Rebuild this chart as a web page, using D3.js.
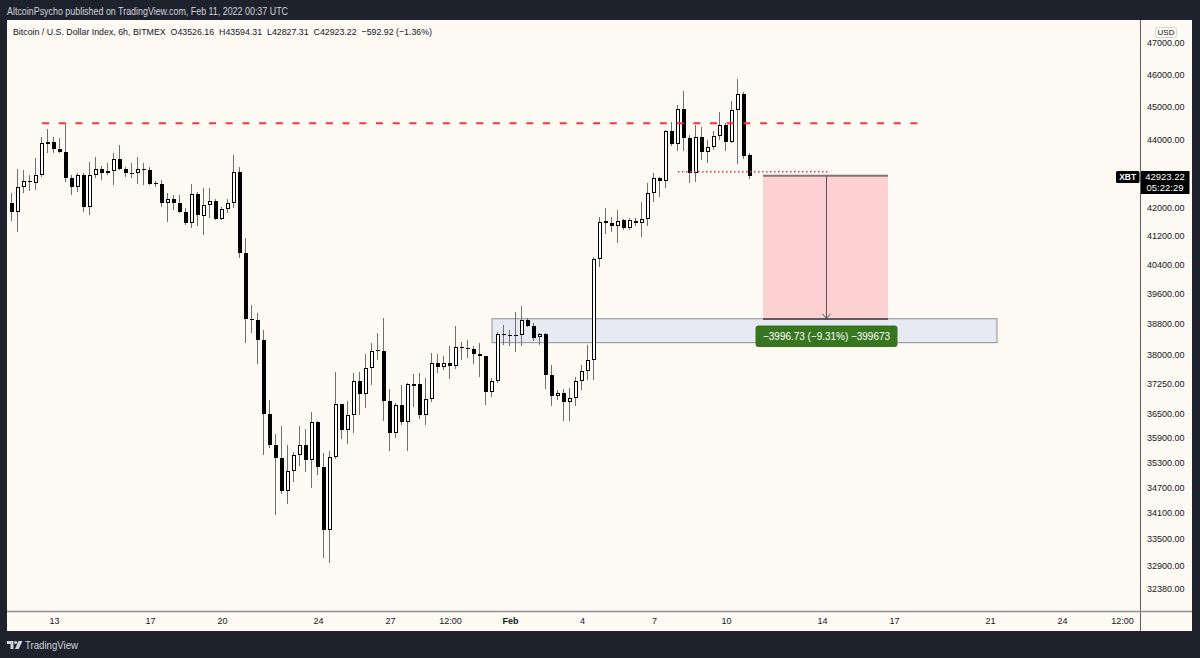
<!DOCTYPE html>
<html>
<head>
<meta charset="utf-8">
<script src="https://cdn.jsdelivr.net/npm/d3@7"></script>
<style>
  html, body { margin: 0; padding: 0; background: #1e222d; }
  svg { display: block; font-family: "Liberation Sans", Arial, sans-serif; }
</style>
</head>
<body>
<div id="chart"></div>
<script>
// BTC/USD 6h candles, Jan 11 06:00 -> Feb 11 00:00 (UTC)
var firstCandle = '2022-01-11T06:00Z';
var candleHours = 6;

var opens = [
  42120, 41860, 42600, 42770, 42720, 42940, 43860, 43930, 43700, 43620,
  42860, 42580, 42930, 42020, 42930, 43110, 43010, 43050, 43400, 43110,
  43010, 43000, 43110, 43100, 42720, 42680, 42120, 42240, 42140, 41880,
  41550, 42380, 41760, 42070, 42190, 41660, 41950, 42140, 43040, 40730,
  38920, 38900, 38370, 36480, 35720, 35390, 34620, 35100, 35470, 35720,
  35350, 36290, 35190, 33700, 35420, 36730, 36090, 36460, 37310, 36970,
  37640, 38120, 38080, 36810, 36020, 36710, 36290, 37190, 37240, 36460,
  36860, 37770, 37680, 37780, 37700, 38180, 38150, 38140, 38000, 37940,
  37030, 37320, 38520, 38510, 38500, 38490, 38900, 38740, 38460, 38520,
  37460, 36920, 37010, 36790, 36890, 37320, 37570, 37850, 40560, 41610,
  41570, 41460, 41640, 41410, 41620, 41550, 41660, 42430, 42850, 42780,
  44250, 43860, 44910, 44030, 43010, 44080, 43630, 43760, 44100, 44430,
  43930, 44890, 45380, 43526.16
];
var highs = [
  42410, 43110, 43100, 42940, 43430, 44080, 44300, 44080, 44030, 44485,
  42940, 42990, 42990, 43330, 43480, 43210, 43300, 43580, 43830, 43190,
  43300, 43480, 43290, 43190, 42780, 42800, 42410, 42360, 42360, 41980,
  42680, 42460, 42550, 42570, 42240, 42020, 42250, 43530, 43190, 41130,
  39300, 39080, 38630, 36830, 35990, 36180, 35720, 35550, 36180, 36100,
  36540, 36300, 35530, 35560, 37550, 36740, 36810, 37510, 37550, 38000,
  38280, 38550, 38940, 37100, 36750, 37210, 37250, 37490, 37510, 37380,
  38040, 38000, 37950, 38210, 38740, 38320, 38370, 38200, 38280, 37950,
  37380, 38590, 38770, 38630, 39120, 39270, 38940, 38810, 38560, 38550,
  37720, 37080, 37100, 37130, 37410, 37720, 38240, 40610, 41740, 41980,
  41720, 41930, 41660, 41690, 41690, 42170, 42700, 43010, 42890, 44280,
  44530, 45040, 45490, 44130, 44430, 44360, 43980, 44260, 44840, 44490,
  45180, 45840, 45460, 43594.31
];
var lows = [
  41620, 41310, 42410, 42490, 42500, 42890, 43580, 43580, 43580, 42750,
  42360, 42460, 41880, 41790, 42850, 42800, 42940, 42650, 43090, 42890,
  42850, 42680, 42650, 42650, 42580, 42010, 41600, 41930, 41830, 41500,
  41410, 41460, 41220, 41690, 41640, 41640, 41830, 41990, 40570, 38300,
  38560, 37750, 35470, 35640, 34050, 34540, 34310, 34830, 35210, 35070,
  34680, 34990, 33060, 32960, 35370, 35860, 35740, 36020, 36460, 36620,
  37210, 37850, 36310, 35560, 35880, 36210, 35560, 36660, 36350, 36210,
  36790, 37510, 37590, 37350, 37610, 37850, 37890, 37750, 37410, 36710,
  36910, 37250, 38240, 38200, 38060, 38200, 38710, 38350, 38240, 37100,
  36680, 36830, 36310, 36310, 36680, 37080, 37340, 37340, 40320, 41250,
  41310, 41000, 41360, 41360, 41460, 41150, 41470, 42170, 42290, 42550,
  43800, 43650, 43650, 42720, 42750, 43380, 43290, 43680, 43980, 43660,
  43880, 43270, 43410, 42827.31
];
var closes = [
  41860, 42600, 42770, 42750, 42940, 43880, 43930, 43700, 43620, 42860,
  42580, 42930, 42020, 42930, 43110, 43010, 43050, 43400, 43110, 43010,
  43000, 43110, 43100, 42680, 42680, 42120, 42240, 42140, 41880, 41550,
  42380, 41790, 42070, 42190, 41660, 41950, 42140, 43040, 40730, 38920,
  38900, 38370, 36480, 35720, 35390, 34620, 35100, 35470, 35720, 35350,
  36290, 35190, 33700, 35420, 36730, 36090, 36460, 37310, 36970, 37640,
  38090, 38080, 36810, 36020, 36710, 36290, 37230, 37240, 36460, 36860,
  37770, 37680, 37780, 37700, 38180, 38150, 38140, 38000, 37940, 37030,
  37320, 38520, 38510, 38500, 38490, 38900, 38740, 38410, 38520, 37460,
  36930, 37010, 36790, 36890, 37320, 37570, 37850, 40560, 41590, 41570,
  41460, 41620, 41410, 41640, 41550, 41660, 42430, 42850, 42780, 44250,
  43860, 44910, 44030, 43010, 44080, 43630, 43760, 44100, 44430, 43930,
  44890, 45380, 43516.14, 42923.22
];

var priceTicks = [47000, 46000, 45000, 44000, 42000, 41200, 40400, 39600, 38800,
  38000, 37250, 36500, 35900, 35300, 34700, 34100, 33500, 32900, 32380];
var timeTicks = ['2022-01-13T00:00Z', '2022-01-17T00:00Z', '2022-01-20T00:00Z',
  '2022-01-24T00:00Z', '2022-01-27T00:00Z', '2022-01-29T12:00Z', '2022-02-01T00:00Z',
  '2022-02-04T00:00Z', '2022-02-07T00:00Z', '2022-02-10T00:00Z', '2022-02-14T00:00Z',
  '2022-02-17T00:00Z', '2022-02-21T00:00Z', '2022-02-24T00:00Z', '2022-02-26T12:00Z'];
var timeLabels = ['13', '17', '20', '24', '27', '12:00', 'Feb', '4', '7', '10', '14', '17', '21', '24', '12:00'];

// drawings
var resistancePrice = 44485;
var resistanceTimes = ['2022-01-12T12:00Z', '2022-02-18T07:00Z'];
var breakPrice = 43040;
var breakTimes = ['2022-02-08T00:00Z', '2022-02-14T06:00Z'];
var zonePrices = [38930, 38300];
var zoneTimes = ['2022-01-31T06:00Z', '2022-02-21T07:00Z'];
var measurePrices = [42923.22, 38926.49];
var measureTimes = ['2022-02-11T13:00Z', '2022-02-16T18:00Z'];
var countdown = '05:22:29';

class Chart {
  constructor(config){
    this.el = config.conEl;
    this.width = 1200;
    this.height = 658;
    this.panel = {l: 7, r: 1192, t: 20, b: 631};
    this.axisX = 1140.5;
    this.axisY = 611.5;
    this.draw();
  }

  draw(){
    this.el.innerHTML = '';
    this.svg = d3.select(this.el).append('svg')
      .attr('width', this.width)
      .attr('height', this.height);

    this.createScales();
    this.addFrame();
    this.addZones();
    this.addCandles();
    this.addLines();
    this.addMeasure();
    this.createAxis();
    this.addLabels();
  }

  createScales(){
    this.x = d3.scaleUtc()
      .domain([new Date('2022-01-13T00:00Z'), new Date('2022-02-24T00:00Z')])
      .range([54, 1062]);
    this.y = d3.scaleLog()
      .domain([32380, 47000])
      .range([588.7, 42.7]);
  }

  addFrame(){
    const p = this.panel;
    this.svg.append('rect')
      .attr('width', this.width).attr('height', this.height)
      .attr('fill', '#1e222d');
    this.svg.append('rect')
      .attr('x', p.l).attr('y', p.t)
      .attr('width', p.r - p.l).attr('height', p.b - p.t)
      .attr('fill', '#fdf9f3');

    this.svg.append('clipPath').attr('id', 'plot-clip')
      .append('rect')
      .attr('x', p.l).attr('y', p.t)
      .attr('width', this.axisX - p.l).attr('height', this.axisY - p.t);

    this.plot = this.svg.append('g')
      .attr('class', 'chart-main')
      .attr('clip-path', 'url(#plot-clip)');
  }

  addZones(){
    const x = this.x, y = this.y;
    const x0 = x(new Date(zoneTimes[0])), x1 = x(new Date(zoneTimes[1]));
    this.plot.append('rect')
      .attr('class', 'zone')
      .attr('x', x0).attr('y', y(zonePrices[0]))
      .attr('width', x1 - x0)
      .attr('height', y(zonePrices[1]) - y(zonePrices[0]))
      .attr('fill', '#e8eaf3')
      .attr('stroke', '#8d9099')
      .attr('stroke-width', 1);

    const m0 = x(new Date(measureTimes[0])), m1 = x(new Date(measureTimes[1]));
    this.plot.append('rect')
      .attr('class', 'measure-fill')
      .attr('x', m0).attr('y', y(measurePrices[0]))
      .attr('width', m1 - m0)
      .attr('height', y(measurePrices[1]) - y(measurePrices[0]))
      .attr('fill', '#fdd0d1');
  }

  addCandles(){
    const x = this.x, y = this.y;
    const start = new Date(firstCandle).getTime();
    const candles = opens.map((o, i) => ({
      t: new Date(start + i * candleHours * 3600e3),
      o: o, h: highs[i], l: lows[i], c: closes[i]
    }));

    const g = this.plot.append('g')
      .attr('class', 'candles')
      .attr('shape-rendering', 'crispEdges');

    const c = g.selectAll('g').data(candles).join('g');

    c.append('rect')
      .attr('x', d => Math.round(x(d.t)) - 1)
      .attr('width', 1)
      .attr('y', d => y(d.h))
      .attr('height', d => y(d.l) - y(d.h))
      .attr('fill', '#6f6f6f');

    c.append('rect')
      .attr('x', d => d.c >= d.o ? Math.round(x(d.t)) - 1.5 : Math.round(x(d.t)) - 2)
      .attr('width', d => d.c >= d.o ? 3 : 4)
      .attr('y', d => {
        const top = y(Math.max(d.o, d.c));
        return d.c >= d.o ? top + 0.5 : top;
      })
      .attr('height', d => {
        const h = y(Math.min(d.o, d.c)) - y(Math.max(d.o, d.c));
        return d.c >= d.o ? Math.max(h, 2) - 1 : Math.max(h, 1);
      })
      .attr('fill', d => d.c >= d.o ? '#ffffff' : '#000000')
      .attr('stroke', d => d.c >= d.o ? '#000000' : 'none')
      .attr('stroke-width', 1);
  }

  addLines(){
    const x = this.x, y = this.y;
    this.plot.append('line')
      .attr('class', 'resistance')
      .attr('x1', x(new Date(resistanceTimes[0])))
      .attr('x2', x(new Date(resistanceTimes[1])))
      .attr('y1', y(resistancePrice)).attr('y2', y(resistancePrice))
      .attr('stroke', '#f23645')
      .attr('stroke-width', 2)
      .attr('stroke-dasharray', '7,9.7');

    this.plot.append('line')
      .attr('class', 'breakdown')
      .attr('x1', x(new Date(breakTimes[0])))
      .attr('x2', x(new Date(breakTimes[1])))
      .attr('y1', y(breakPrice)).attr('y2', y(breakPrice))
      .attr('stroke', '#f23645')
      .attr('stroke-width', 1.5)
      .attr('stroke-dasharray', '1.5,2.5');
  }

  addMeasure(){
    const x = this.x, y = this.y;
    const m0 = x(new Date(measureTimes[0])), m1 = x(new Date(measureTimes[1]));
    const mid = Math.round((m0 + m1) / 2) + 0.5;
    const yTop = y(measurePrices[0]), yBot = y(measurePrices[1]);

    const g = this.plot.append('g').attr('class', 'measure');
    g.append('line')
      .attr('x1', m0).attr('x2', m1).attr('y1', yTop).attr('y2', yTop)
      .attr('stroke', '#7a7a7a').attr('stroke-width', 2);
    g.append('line')
      .attr('x1', m0).attr('x2', m1).attr('y1', yBot).attr('y2', yBot)
      .attr('stroke', '#333333').attr('stroke-width', 1.5);
    g.append('line')
      .attr('x1', mid).attr('x2', mid).attr('y1', yTop).attr('y2', yBot - 0.5)
      .attr('stroke', '#555555').attr('stroke-width', 1);
    g.append('path')
      .attr('d', `M${mid - 4},${yBot - 5}L${mid},${yBot - 0.5}L${mid + 4},${yBot - 5}`)
      .attr('fill', 'none').attr('stroke', '#555555').attr('stroke-width', 1);

    const diff = measurePrices[1] - measurePrices[0];
    const pct = diff / measurePrices[0] * 100;
    const minus = v => (v < 0 ? '\u2212' : '') + Math.abs(v);
    const text = `${minus(diff.toFixed(2))} (${minus(pct.toFixed(2))}%) ${minus(Math.round(diff * 100))}`;

    const bw = 142, bh = 21.5;
    g.append('rect')
      .attr('x', mid - bw / 2).attr('y', yBot + 6.5)
      .attr('width', bw).attr('height', bh)
      .attr('rx', 3)
      .attr('fill', '#37761f');
    g.append('text')
      .attr('x', mid - 63.5).attr('y', yBot + 6.5 + bh / 2)
      .attr('dy', '0.35em')
      .attr('fill', '#ffffff')
      .attr('font-size', 10.5)
      .attr('textLength', 127).attr('lengthAdjust', 'spacingAndGlyphs')
      .text(text);
  }

  createAxis(){
    const p = this.panel;

    const yAxis = d3.axisRight(this.y)
      .tickValues(priceTicks)
      .tickFormat(d => d.toFixed(2))
      .tickSize(0)
      .tickPadding(6.5);
    const ya = this.svg.append('g')
      .attr('class', 'y-scale-R')
      .attr('transform', `translate(${this.axisX},0)`)
      .call(yAxis);
    ya.select('.domain').remove();
    ya.selectAll('text').attr('fill', '#131722').attr('font-size', 9);

    const xAxis = d3.axisBottom(this.x)
      .tickValues(timeTicks.map(d => new Date(d)))
      .tickFormat((d, i) => timeLabels[i])
      .tickSize(0)
      .tickPadding(6.5);
    const xa = this.svg.append('g')
      .attr('class', 'x-scale')
      .attr('transform', `translate(0,${this.axisY})`)
      .call(xAxis);
    xa.select('.domain').remove();
    xa.selectAll('text')
      .attr('fill', '#131722').attr('font-size', 9)
      .attr('font-weight', (d, i) => timeLabels[i] === 'Feb' ? 700 : 400);

    this.svg.append('line')
      .attr('x1', this.axisX).attr('x2', this.axisX)
      .attr('y1', p.t).attr('y2', p.b)
      .attr('stroke', '#5d5f66').attr('stroke-width', 1);
    this.svg.append('line')
      .attr('x1', p.l).attr('x2', p.r)
      .attr('y1', this.axisY).attr('y2', this.axisY)
      .attr('stroke', '#8f9197').attr('stroke-width', 1.5);

    // USD badge
    this.svg.append('rect')
      .attr('x', 1155.5).attr('y', 27.5).attr('width', 21).attr('height', 10)
      .attr('rx', 2).attr('fill', '#fdf9f3').attr('stroke', '#d6d6d6');
    this.svg.append('text')
      .attr('x', 1166).attr('y', 32.5).attr('dy', '0.35em')
      .attr('text-anchor', 'middle').attr('font-size', 8).attr('fill', '#131722')
      .text('USD');

    // last price badge
    const last = closes[closes.length - 1];
    const ly = Math.round(this.y(last));
    this.svg.append('rect')
      .attr('x', 1116).attr('y', ly - 5).attr('width', 23.5).attr('height', 12)
      .attr('rx', 1.5).attr('fill', '#000000');
    this.svg.append('text')
      .attr('x', 1127.7).attr('y', ly + 1).attr('dy', '0.35em')
      .attr('text-anchor', 'middle').attr('font-size', 8.5)
      .attr('font-weight', 700).attr('fill', '#ffffff')
      .text('XBT');
    this.svg.append('rect')
      .attr('x', 1141).attr('y', ly - 5).attr('width', 48.5).attr('height', 23)
      .attr('fill', '#000000');
    this.svg.append('text')
      .attr('x', 1165).attr('y', ly + 0.5).attr('dy', '0.35em')
      .attr('text-anchor', 'middle').attr('font-size', 9.5).attr('fill', '#ffffff')
      .text(last.toFixed(2));
    this.svg.append('text')
      .attr('x', 1165).attr('y', ly + 11.5).attr('dy', '0.35em')
      .attr('text-anchor', 'middle').attr('font-size', 9.5).attr('fill', '#ffffff')
      .text(countdown);
  }

  addLabels(){
    const n = closes.length - 1;
    const change = closes[n] - closes[n - 1];
    const pct = change / closes[n - 1] * 100;
    const sign = v => (v < 0 ? '\u2212' : '+') + Math.abs(v);

    this.svg.append('text')
      .attr('x', 7).attr('y', 14.5)
      .attr('font-size', 10).attr('fill', '#d1d4dc')
      .attr('textLength', 281).attr('lengthAdjust', 'spacingAndGlyphs')
      .text('AltcoinPsycho published on TradingView.com, Feb 11, 2022 00:37 UTC');

    this.svg.append('text')
      .attr('x', 13).attr('y', 35)
      .attr('font-size', 9.5).attr('fill', '#131722')
      .attr('textLength', 419).attr('lengthAdjust', 'spacingAndGlyphs')
      .attr('xml:space', 'preserve')
      .text(`Bitcoin / U.S. Dollar Index, 6h, BITMEX  O${opens[n].toFixed(2)}  H${highs[n].toFixed(2)}  L${lows[n].toFixed(2)}  C${closes[n].toFixed(2)}  ${sign(change.toFixed(2))} (${sign(pct.toFixed(2))}%)`);

    // footer logo
    const f = this.svg.append('g').attr('class', 'footer').attr('fill', '#d1d4dc');
    f.append('path').attr('d', 'M7,641H13.5V649H10.5V644H7Z');
    f.append('circle').attr('cx', 15.6).attr('cy', 642.4).attr('r', 1.5);
    f.append('path').attr('d', 'M18.5,641H22.5L18.7,649H15Z');
    f.append('text')
      .attr('x', 25).attr('y', 648.5)
      .attr('font-size', 10)
      .attr('textLength', 53).attr('lengthAdjust', 'spacingAndGlyphs')
      .text('TradingView');
  }
}

new Chart({conEl: document.getElementById('chart')});
</script>
</body>
</html>
